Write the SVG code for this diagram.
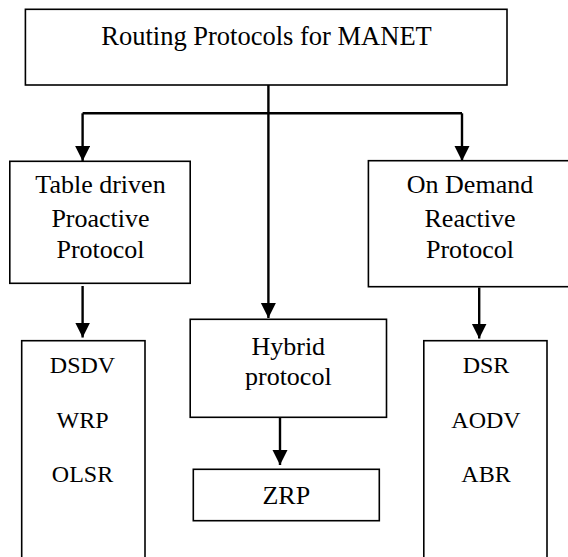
<svg xmlns="http://www.w3.org/2000/svg" width="568" height="557" viewBox="0 0 568 557" font-family="'Liberation Serif', 'Times New Roman', 'DejaVu Serif', serif">
  <style>
    .box { fill: #ffffff; stroke: #000000; stroke-width: 1.6; }
    .wire { fill: none; stroke: #000000; stroke-width: 2.4; }
    text { font-family: "Liberation Serif", "Times New Roman", "DejaVu Serif", serif; fill: #000000; text-anchor: middle; }
    .xl { font-size: 26.5px; }
    .lg { font-size: 26px; }
    .md { font-size: 24px; }
  </style>
  <defs>
    <marker id="head" markerUnits="userSpaceOnUse" markerWidth="16" markerHeight="18" refX="15" refY="7.5" orient="auto">
      <path d="M0,0 L15,7.5 L0,15 Z" fill="#000000"/>
    </marker>
  </defs>

  <rect width="568" height="557" fill="#ffffff"/>

  <g id="connectors">
    <!-- trunk from the root down to the hybrid box -->
    <line class="wire" x1="268.4" y1="85" x2="268.4" y2="318" marker-end="url(#head)"/>
    <!-- branch bar -->
    <line class="wire" x1="82.6" y1="113.3" x2="462" y2="113.3"/>
    <line class="wire" x1="82.6" y1="113.3" x2="82.6" y2="161" marker-end="url(#head)"/>
    <line class="wire" x1="462" y1="113.3" x2="462" y2="161" marker-end="url(#head)"/>
    <!-- category to examples -->
    <line class="wire" x1="82.6" y1="286" x2="82.6" y2="337.5" marker-end="url(#head)"/>
    <line class="wire" x1="479.2" y1="287.5" x2="479.2" y2="338.5" marker-end="url(#head)"/>
    <line class="wire" x1="280" y1="417.3" x2="280" y2="465" marker-end="url(#head)"/>
  </g>

  <g id="root">
    <rect class="box" x="25.4" y="9.3" width="481.6" height="75.7"/>
    <text class="xl" x="266.5" y="44.5">Routing Protocols for MANET</text>
  </g>

  <g id="proactive">
    <rect class="box" x="9.8" y="161.3" width="180.4" height="122"/>
    <text class="lg" x="100.5" y="193.3">Table driven</text>
    <text class="lg" x="100.5" y="226.7">Proactive</text>
    <text class="lg" x="100.5" y="258.3">Protocol</text>
  </g>

  <g id="reactive">
    <rect class="box" x="368.4" y="160.7" width="210" height="126"/>
    <text class="lg" x="470" y="193.3">On Demand</text>
    <text class="lg" x="470" y="226.7">Reactive</text>
    <text class="lg" x="470" y="258.3">Protocol</text>
  </g>

  <g id="hybrid">
    <rect class="box" x="190.2" y="319.3" width="196.3" height="98"/>
    <text class="lg" x="288.3" y="355">Hybrid</text>
    <text class="lg" x="288.3" y="384.5">protocol</text>
  </g>

  <g id="proactive-list">
    <rect class="box" x="21.7" y="340.7" width="123.3" height="230"/>
    <text class="md" x="82.5" y="373.3">DSDV</text>
    <text class="md" x="82.5" y="427.5">WRP</text>
    <text class="md" x="82.5" y="481.7">OLSR</text>
  </g>

  <g id="reactive-list">
    <rect class="box" x="423.8" y="340.7" width="123.2" height="230"/>
    <text class="md" x="486" y="373.3">DSR</text>
    <text class="md" x="486" y="427.5">AODV</text>
    <text class="md" x="486" y="481.7">ABR</text>
  </g>

  <g id="zrp">
    <rect class="box" x="193.3" y="469.3" width="186" height="51.4"/>
    <text class="lg" x="286.3" y="504.3">ZRP</text>
  </g>
</svg>
